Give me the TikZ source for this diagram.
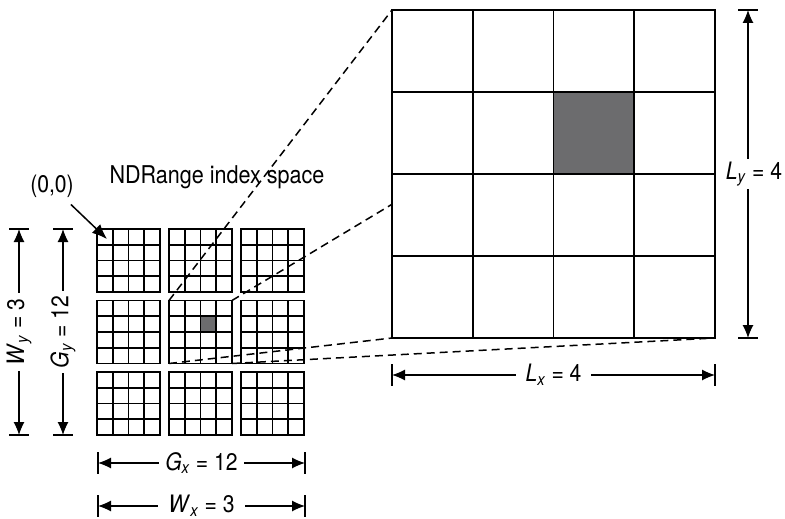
\documentclass[tikz,border=0pt]{standalone}
\usepackage{fontspec}
\setmainfont[FakeStretch=0.88]{TeX Gyre Heros}
\usepackage{tikz}
\usetikzlibrary{positioning, arrows.meta, calc, backgrounds}
\definecolor{cShade}{RGB}{108,108,110}

\newcommand{\dimtxt}[3]{\textit{#1}\textsubscript{\textit{#2}} = #3}

\begin{document}
\begin{tikzpicture}[x=1pt, y=-1pt,
    wgbox/.style={draw, line width=1.8pt, minimum size=63pt, inner sep=0pt, outer sep=0pt},
    localbox/.style={draw, fill=white, line width=1.8pt, minimum width=323pt, minimum height=328pt, inner sep=0pt, outer sep=0pt},
    zoomline/.style={line width=1.5pt, dash pattern=on 8pt off 5pt},
    dimline/.style={line width=1.1pt, {Latex[length=13pt,width=11pt]}-{Latex[length=13pt,width=11pt]}},
    tickline/.style={line width=1.3pt},
    lbl/.style={font=\fontsize{24}{28}\selectfont, fill=white, inner ysep=3pt}]
    \useasboundingbox (0,0) rectangle (785,519);

    % work-groups of the index space
    \foreach \c in {1,2,3}{
      \foreach \r in {1,2,3}{
        \node[wgbox] (wg-\c-\r) at ({56.5+72*\c},{189+71.5*\r}) {};
        \foreach \k in {1,2,3}{
          \draw[line width=1.8pt] ($(wg-\c-\r.north west)!\k/4!(wg-\c-\r.north east)$) -- ($(wg-\c-\r.south west)!\k/4!(wg-\c-\r.south east)$);
          \draw[line width=1.8pt] ($(wg-\c-\r.north west)!\k/4!(wg-\c-\r.south west)$) -- ($(wg-\c-\r.north east)!\k/4!(wg-\c-\r.south east)$);
        }
      }
    }
    \fill[cShade, draw=black, line width=1.8pt] ($(wg-2-2.north west)+(31.5,15.75)$) rectangle ++(15.75,15.75);

    % one work-group, enlarged
    \node[localbox] (local) at (553.5,174) {};
    \foreach \k in {1,2,3}{
      \draw[line width=1.8pt] ($(local.north west)!\k/4!(local.north east)$) -- ($(local.south west)!\k/4!(local.south east)$);
      \draw[line width=1.8pt] ($(local.north west)!\k/4!(local.south west)$) -- ($(local.north east)!\k/4!(local.south east)$);
    }
    \fill[cShade, draw=black, line width=1.8pt] ($(local.north west)+(161.5,82)$) rectangle ++(80.75,82);

    \begin{scope}[on background layer]
      \draw[zoomline] (wg-2-2.north west) -- (local.north west);
      \draw[zoomline] (wg-2-2.north east) -- (local.north east);
      \draw[zoomline] (wg-2-2.south west) -- (local.south west);
      \draw[zoomline] (wg-2-2.south east) -- (local.south east);
    \end{scope}

    \node[font=\fontsize{24.5}{28}\selectfont, anchor=base] (title) at (217,183) {NDRange index space};
    \node[font=\fontsize{24}{28}\selectfont, inner sep=2pt] (origin) at (52,186) {(0,0)};
    \draw[line width=1.5pt, -{Latex[length=15pt,width=12pt]}] (origin.south east) ++(-5,5) coordinate (o-start) -- ($(wg-1-1.north west)+(10,10)$);

    % dimensions
    \coordinate (wy-a) at (19,229);  \coordinate (wy-b) at (19,435);
    \coordinate (gy-a) at (63,229);  \coordinate (gy-b) at (63,435);
    \coordinate (gx-a) at (98,463);  \coordinate (gx-b) at (305,463);
    \coordinate (wx-a) at (98,506);  \coordinate (wx-b) at (305,506);
    \coordinate (ly-a) at (748,10);  \coordinate (ly-b) at (748,338);
    \coordinate (lx-a) at (392,375); \coordinate (lx-b) at (715,375);

    \foreach \p in {wy-a,wy-b,gy-a,gy-b,ly-a,ly-b}
      \draw[tickline] ($(\p)+(-10,0)$) -- ($(\p)+(10,0)$);
    \foreach \p in {gx-a,gx-b,wx-a,wx-b,lx-a,lx-b}
      \draw[tickline] ($(\p)+(0,-11)$) -- ($(\p)+(0,11)$);

    \draw[dimline] (wy-a) -- (wy-b) node[lbl, midway, rotate=90, inner xsep=6pt] {\dimtxt{W}{y}{3}};
    \draw[dimline] (gy-a) -- (gy-b) node[lbl, midway, rotate=90, inner xsep=5pt] {\dimtxt{G}{y}{12}};
    \draw[dimline] (gx-a) -- (gx-b) node[lbl, midway, inner xsep=6pt] {\dimtxt{G}{x}{12}};
    \draw[dimline] (wx-a) -- (wx-b) node[lbl, midway, inner xsep=10pt] {\dimtxt{W}{x}{3}};
    \draw[dimline] (ly-a) -- (ly-b) node[lbl, midway, xshift=6pt, inner xsep=1pt] {\dimtxt{L}{y}{4}};
    \draw[dimline] (lx-a) -- (lx-b) node[lbl, midway, inner xsep=10pt] {\dimtxt{L}{x}{4}};
\end{tikzpicture}
\end{document}
